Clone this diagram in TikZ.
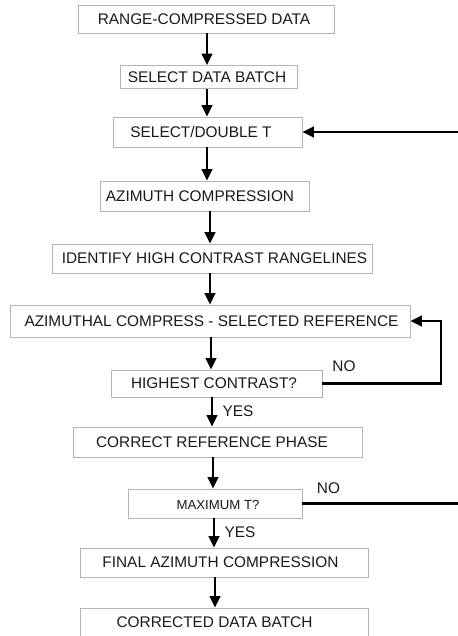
\documentclass[tikz,border=0pt]{standalone}
\usepackage{fontspec}
\setmainfont{Liberation Sans}
\usetikzlibrary{arrows.meta}
\definecolor{boxgray}{HTML}{B4B4B4}
\definecolor{txt}{HTML}{1A1A1A}
\begin{document}
\begin{tikzpicture}[x=1pt,y=-1pt,
  box/.style={draw=boxgray, line width=0.9pt, rectangle, inner sep=0pt},
  every label/.style={font=\fontsize{15.4}{18}\selectfont, text=txt, inner sep=0pt},
  small/.style={font=\fontsize{13.2}{15}\selectfont},
  lab/.style={font=\fontsize{15.4}{18}\selectfont, text=txt, inner sep=0pt},
  arr/.style={line width=2.5pt, -{Triangle[width=10.5pt,length=11.5pt]}},
  plain/.style={line width=2.5pt}
]
\useasboundingbox (0,0) rectangle (457,636);
\fill[white] (0,0) rectangle (457,636);

\node[box, minimum width=256pt, minimum height=28pt, label={[xshift=-2pt]center:RANGE-COMPRESSED DATA}] (n1) at (206,19) {};
\node[box, minimum width=177pt, minimum height=23pt, label={[xshift=-1.5pt]center:SELECT DATA BATCH}] (n2) at (208.5,77) {};
\node[box, minimum width=189pt, minimum height=30pt, label={[xshift=-6.5pt]center:SELECT/DOUBLE T}] (n3) at (207.5,132) {};
\node[box, minimum width=209pt, minimum height=30pt, label={[xshift=-4.5pt]center:AZIMUTH COMPRESSION}] (n4) at (204.5,196) {};
\node[box, minimum width=320pt, minimum height=29pt, label={[xshift=2.5pt]center:IDENTIFY HIGH CONTRAST RANGELINES}] (n5) at (212,258.5) {};
\node[box, minimum width=400pt, minimum height=32pt, label={[xshift=1.5pt]center:AZIMUTHAL COMPRESS - SELECTED REFERENCE}] (n6) at (210,321) {};
\node[box, minimum width=211pt, minimum height=27pt, label={[xshift=-2.5pt]center:HIGHEST CONTRAST?}] (n7) at (216.5,383.5) {};
\node[box, minimum width=289pt, minimum height=30pt, label={[xshift=-5.5pt]center:CORRECT REFERENCE PHASE}] (n8) at (217.5,442) {};
\node[box, minimum width=174pt, minimum height=29pt, label={[xshift=3pt,yshift=-1pt,small]center:MAXIMUM T?}] (n9) at (215,503.5) {};
\node[box, minimum width=288pt, minimum height=29pt, label={[xshift=-3.5pt]center:FINAL AZIMUTH COMPRESSION}] (n10) at (224,562.5) {};
\node[box, minimum width=288pt, minimum height=29pt, label={[xshift=-9.5pt]center:CORRECTED DATA BATCH}] (n11) at (224,622.5) {};

\draw[arr] (n1.south -| 207,0) -- (n2.north -| 207,0);
\draw[arr] (n2.south -| 207,0) -- (n3.north -| 207,0);
\draw[arr] (n3.south -| 207,0) -- (n4.north -| 207,0);
\draw[arr] (n4.south -| 210,0) -- (n5.north -| 210,0);
\draw[arr] (n5.south -| 210,0) -- (n6.north -| 210,0);
\draw[arr] (n6.south -| 211,0) -- (n7.north -| 211,0);
\draw[arr] (n7.south -| 212,0) -- (n8.north -| 212,0);
\draw[arr] (n8.south -| 213,0) -- (n9.north -| 213,0);
\draw[arr] (n9.south -| 214,0) -- (n10.north -| 214,0);
\draw[arr] (n10.south -| 215,0) -- (n11.north -| 215,0);

\coordinate (loop) at (441,383.5);
\draw[arr] (n7.east) -- (loop) |- (n6.east);
\coordinate (rin) at (462,132);
\draw[arr] (rin) -- (n3.east);
\coordinate (rout) at (462,503.5);
\draw[plain] (n9.east) -- (rout);

\node[lab] (no1) at (344,366) {NO};
\node[lab] (yes1) at (238,411) {YES};
\node[lab] (no2) at (328.5,488) {NO};
\node[lab] (yes2) at (240,532) {YES};
\end{tikzpicture}
\end{document}
